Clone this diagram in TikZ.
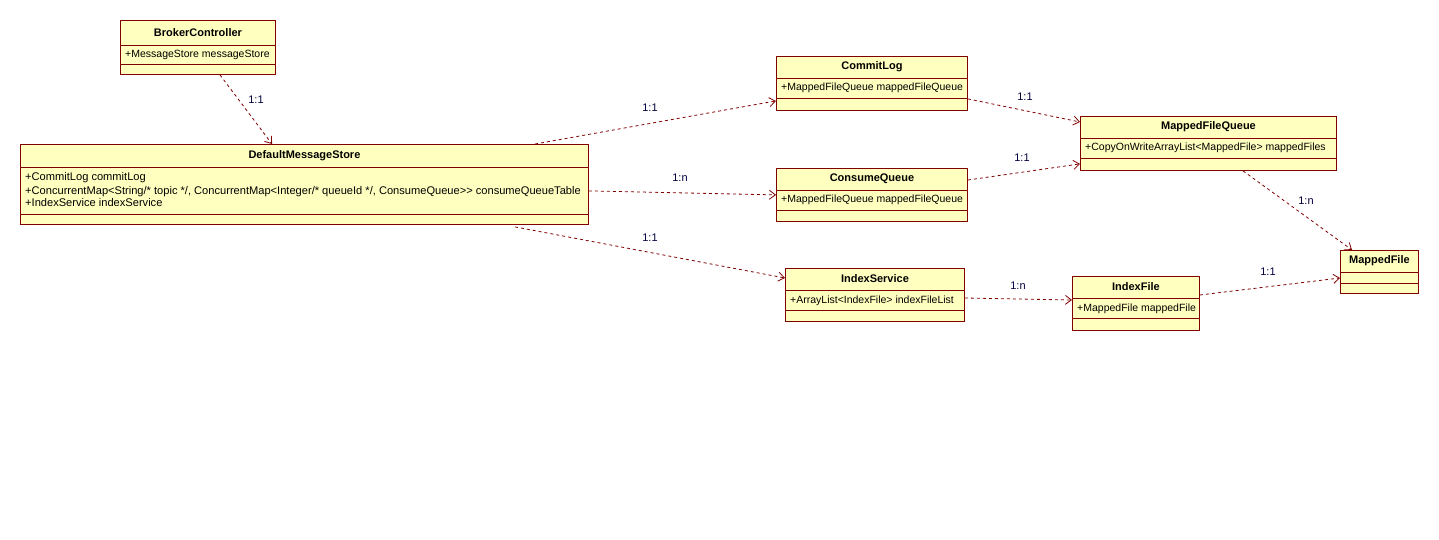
\documentclass[tikz,border=0pt]{standalone}
\usepackage{fontspec}
\setmainfont{Liberation Sans}
\usetikzlibrary{arrows.meta,calc}
\definecolor{umlred}{RGB}{128,0,0}
\definecolor{umlfill}{RGB}{255,255,192}
\definecolor{umllbl}{RGB}{0,0,64}
\tikzset{
  cls/.style={draw=umlred, fill=umlfill, line width=0.9pt, inner sep=0pt, anchor=north west, rectangle},
  divline/.style={draw=umlred, line width=0.9pt},
  ctitle/.style={font=\fontsize{11}{13}\selectfont\bfseries, inner sep=0pt, anchor=center},
  cattr/.style={font=\fontsize{10.5}{13}\selectfont, inner sep=0pt, anchor=base west},
  wideattr/.style={cattr, font=\fontsize{11.1}{13}\selectfont},
  dep/.style={draw=umlred, line width=0.8pt, dash pattern=on 3pt off 3pt, -{Straight Barb[length=6pt,width=9pt,line width=0.8pt]}},
  mult/.style={font=\fontsize{11}{13}\selectfont, text=umllbl, inner sep=0pt}
}
% name, x, y, width, height, divider1 offset, divider2 offset, title
\newcommand\umlclassbox[8]{%
  \node[cls, minimum width=#4pt, minimum height=#5pt] (#1) at (#2,#3) {};
  \draw[divline] ([yshift=-#6pt]#1.north west) -- ([yshift=-#6pt]#1.north east);
  \draw[divline] ([yshift=-#7pt]#1.north west) -- ([yshift=-#7pt]#1.north east);
  \node[ctitle] (#1-title) at ([yshift={-#6pt/2}]#1.north) {#8};
}
\begin{document}
\begin{tikzpicture}[x=1pt,y=-1pt]
\useasboundingbox[fill=white] (0,0) rectangle (1439,540);

\umlclassbox{bc}{120}{20}{155}{54}{25}{44}{BrokerController}
\node[cattr] (bc-a1) at ([xshift=5pt,yshift={-(25+13)*1pt}]bc.north west) {+MessageStore messageStore};

\umlclassbox{dms}{20}{144}{568}{80}{23}{70}{DefaultMessageStore}
\node[wideattr] (dms-a1) at ([xshift=5pt,yshift={-(23+14)*1pt}]dms.north west) {+CommitLog commitLog};
\node[wideattr] (dms-a2) at ([xshift=5pt,yshift={-(23+27)*1pt}]dms.north west) {+ConcurrentMap<String/* topic */, ConcurrentMap<Integer/* queueId */, ConsumeQueue>{}> consumeQueueTable};
\node[wideattr] (dms-a3) at ([xshift=5pt,yshift={-(23+40)*1pt}]dms.north west) {+IndexService indexService};

\umlclassbox{cl}{776}{56}{191}{54}{22}{42}{CommitLog}
\node[cattr] (cl-a1) at ([xshift=5pt,yshift={-(22+13)*1pt}]cl.north west) {+MappedFileQueue mappedFileQueue};

\umlclassbox{mfq}{1080}{116}{256}{54}{22}{42}{MappedFileQueue}
\node[cattr] (mfq-a1) at ([xshift=5pt,yshift={-(22+13)*1pt}]mfq.north west) {+CopyOnWriteArrayList<MappedFile> mappedFiles};

\umlclassbox{cq}{776}{168}{191}{53}{22}{42}{ConsumeQueue}
\node[cattr] (cq-a1) at ([xshift=5pt,yshift={-(22+13)*1pt}]cq.north west) {+MappedFileQueue mappedFileQueue};

\umlclassbox{is}{785}{268}{179}{53}{22}{42}{IndexService}
\node[cattr] (is-a1) at ([xshift=5pt,yshift={-(22+13)*1pt}]is.north west) {+ArrayList<IndexFile> indexFileList};

\umlclassbox{if}{1072}{276}{127}{54}{22}{42}{IndexFile}
\node[cattr] (if-a1) at ([xshift=5pt,yshift={-(22+13)*1pt}]if.north west) {+MappedFile mappedFile};

\umlclassbox{mf}{1340}{250}{78}{43}{22}{33}{MappedFile}

% dependencies
\draw[dep] ([xshift=100pt]bc.south west) -- ([xshift=252pt]dms.north west);
\draw[dep] ([xshift=515pt]dms.north west) -- ([yshift=10pt]cl.south west);
\draw[dep] ([yshift=34pt]dms.south east) -- ([yshift=27pt]cq.south west);
\draw[dep] ([xshift=495pt,yshift=-2pt]dms.south west) -- ([yshift=-10pt]is.north west);
\draw[dep] ([yshift=12pt]cl.south east) -- ([yshift=-6pt]mfq.north west);
\draw[dep] ([yshift=-12pt]cq.north east) -- ([yshift=7pt]mfq.south west);
\draw[dep] ([xshift=163pt]mfq.south west) -- ([xshift=12pt]mf.north west);
\draw[dep] ([yshift=-30pt]is.north east) -- ([yshift=-24pt]if.north west);
\draw[dep] ([yshift=-19pt]if.north east) -- ([yshift=-28pt]mf.north west);

% multiplicities
\node[mult] (m1) at (256,100) {1:1};
\node[mult] (m2) at (650,108) {1:1};
\node[mult] (m3) at (680,178) {1:n};
\node[mult] (m4) at (650,238) {1:1};
\node[mult] (m5) at (1025,97) {1:1};
\node[mult] (m6) at (1022,158) {1:1};
\node[mult] (m7) at (1306,201) {1:n};
\node[mult] (m8) at (1018,286) {1:n};
\node[mult] (m9) at (1268,272) {1:1};
\end{tikzpicture}
\end{document}
